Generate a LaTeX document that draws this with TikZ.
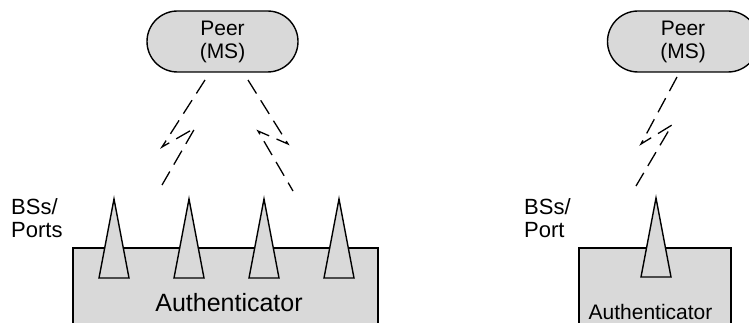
\documentclass[tikz,border=0pt]{standalone}
\usepackage{fontspec}
\setmainfont{Liberation Sans}
\definecolor{boxgray}{RGB}{217,217,217}
\begin{document}
\begin{tikzpicture}[x=1pt,y=-1pt,
  outline/.style={draw=black,line width=1.4pt,fill=boxgray},
  peerbox/.style={outline,minimum width=151pt,minimum height=61pt,rounded corners=30.5pt,inner sep=0pt,
    align=center,font=\fontsize{21}{23}\selectfont},
  antenna/.style={outline,line join=miter},
  radio/.style={draw=black,line width=1.3pt,dash pattern=on 16pt off 8pt,line join=miter},
  lbl/.style={inner sep=0pt,align=left,font=\fontsize{22}{23}\selectfont},
  authbig/.style={inner sep=0pt,anchor=base,font=\fontsize{25}{28}\selectfont},
  authsmall/.style={inner sep=0pt,anchor=base,font=\fontsize{21}{24}\selectfont}]
\useasboundingbox (0,0) rectangle (749,323);
\clip (0,0) rectangle (749,323);

% ---------- left scenario ----------
\node[peerbox] (peerL) at (222.5,41.5) {Peer\\(MS)};
\draw[outline] (73,248) rectangle (378,340);
\node[authbig] (authLtxt) at (229,311) {Authenticator};
\foreach \i/\x in {1/114,2/189,3/264,4/339}{
  \draw[antenna] (\x-15,278) -- (\x,199) -- (\x+15,278) -- cycle;
}
\node[lbl,anchor=west] (bssL) at (11,218.5) {BSs/\\Ports};

% wireless links (lightning)
\coordinate (l1t) at (205,80);
\coordinate (l1a) at (162,147);
\coordinate (l1b) at (195,128);
\coordinate (l1e) at (162,185);
\draw[radio] (l1t) -- (l1a) -- (l1b) -- (l1e);

\coordinate (l2t) at (248,80);
\coordinate (l2a) at (288,144);
\coordinate (l2b) at (258,131);
\coordinate (l2e) at (293,191);
\draw[radio] (l2t) -- (l2a) -- (l2b) -- (l2e);

% ---------- right scenario ----------
\node[peerbox] (peerR) at (683,41.5) {Peer\\(MS)};
\draw[outline] (579,248) rectangle (731,340);
\node[authsmall] (authRtxt) at (650.5,319) {Authenticator};
\draw[antenna] (641,277) -- (656,198) -- (671,277) -- cycle;
\node[lbl,anchor=west] (bssR) at (524,218.5) {BSs/\\Port};

\coordinate (r1t) at (677,77);
\coordinate (r1a) at (641,144);
\coordinate (r1b) at (672,125);
\coordinate (r1e) at (636,186);
\draw[radio] (r1t) -- (r1a) -- (r1b) -- (r1e);
\end{tikzpicture}
\end{document}
